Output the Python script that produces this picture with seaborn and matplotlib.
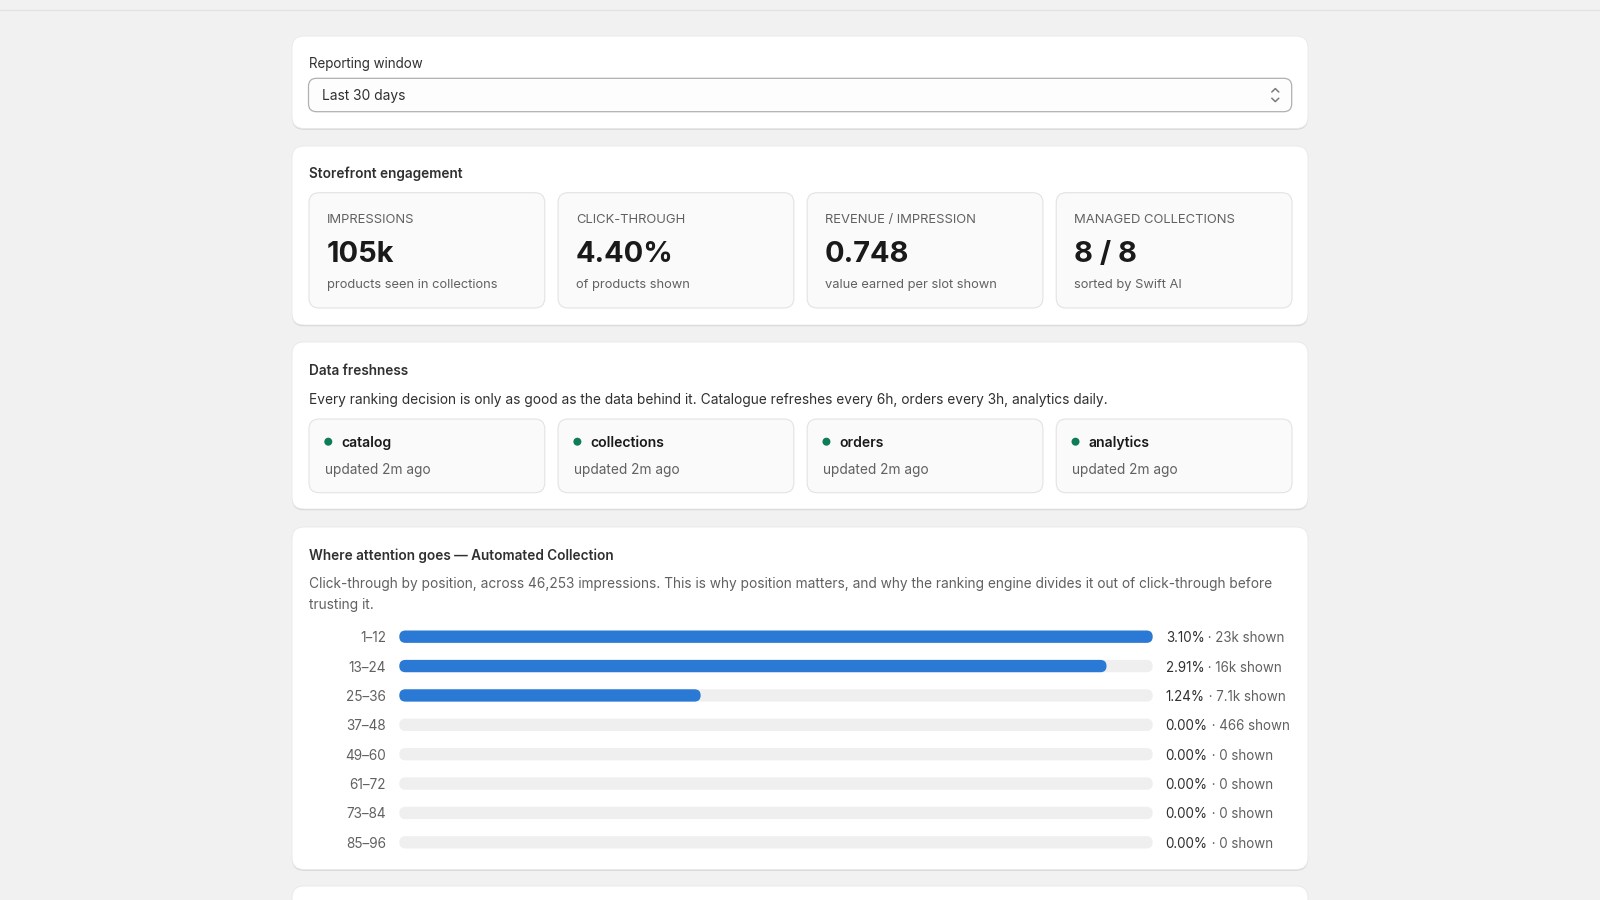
import matplotlib
matplotlib.use("Agg")
import matplotlib.pyplot as plt
from matplotlib.patches import FancyBboxPatch, Circle
import seaborn as sns
import pandas as pd

# ---------------- data ----------------
window_label = "Reporting window"
window_value = "Last 30 days"

metric_labels = ["IMPRESSIONS", "CLICK-THROUGH", "REVENUE / IMPRESSION", "MANAGED COLLECTIONS"]
metric_values = ["105k", "4.40%", "0.748", "8 / 8"]
metric_notes = ["products seen in collections", "of products shown",
                "value earned per slot shown", "sorted by Swift AI"]

fresh_sources = ["catalog", "collections", "orders", "analytics"]
fresh_updated = ["updated 2m ago", "updated 2m ago", "updated 2m ago", "updated 2m ago"]
fresh_desc = ("Every ranking decision is only as good as the data behind it. "
              "Catalogue refreshes every 6h, orders every 3h, analytics daily.")

attn_title = "Where attention goes \u2014 Automated Collection"
attn_desc_1 = ("Click-through by position, across 46,253 impressions. This is why position matters, "
               "and why the ranking engine divides it out of click-through before")
attn_desc_2 = "trusting it."
positions = ["1\u201312", "13\u201324", "25\u201336", "37\u201348",
             "49\u201360", "61\u201372", "73\u201384", "85\u201396"]
ctr_pct = [3.10, 2.91, 1.24, 0.00, 0.00, 0.00, 0.00, 0.00]
shown = ["23k", "16k", "7.1k", "466", "0", "0", "0", "0"]

# ---------------- style ----------------
sns.set_theme(style="white")
plt.rcParams["font.family"] = ["Inter", "DejaVu Sans"]

BG = "#f1f1f1"
TXT = "#303030"
TXT2 = "#616161"
DARK = "#1a1a1a"
BLUE = "#2a7ad5"
TRACK = "#efefef"
GREEN = "#0e7c55"

W, H = 1600, 900
fig = plt.figure(figsize=(16, 9), dpi=100)
fig.patch.set_facecolor(BG)
ax = fig.add_axes([0, 0, 1, 1])
ax.set_xlim(0, W)
ax.set_ylim(H, 0)
ax.axis("off")


def pt(px):
    return px * 0.72


def rbox(x0, y0, x1, y1, r, fc, ec="none", lw=0.8, z=1):
    ax.add_patch(FancyBboxPatch((x0, y0), x1 - x0, y1 - y0,
                                boxstyle=f"round,pad=0,rounding_size={r}",
                                fc=fc, ec=ec, lw=lw, zorder=z))


def card(x0, y0, x1, y1):
    rbox(x0, y0 + 1.3, x1, y1 + 1.3, 12, "#d6d6d6", z=1)
    rbox(x0, y0, x1, y1, 12, "white", ec="#e8e8e8", lw=0.6, z=1.1)


def txt(x, y, s, px, color=TXT, weight="normal", ha="left", va="baseline", z=3):
    return ax.text(x, y, s, fontsize=pt(px), color=color, fontweight=weight,
                   ha=ha, va=va, zorder=z)


# top strip line
ax.plot([0, W], [10.4, 10.4], color="#e2e2e2", lw=1, zorder=0.5)

CX0, CX1 = 292, 1308
IX0, IX1 = 309, 1292

# ---------- card 1: reporting window ----------
card(CX0, 36, CX1, 128.5)
txt(IX0, 68, window_label, 13.4)
rbox(IX0 - 0.5, 78.3, 1291.7, 111.7, 8, "#fdfdfd", ec="#b0b0b0", lw=0.9, z=2)
txt(321.7, 99.8, window_value, 13.8)
ax.plot([1271.8, 1275.3, 1278.8], [92.0, 88.6, 92.0], color="#7a7a7a", lw=1.1, zorder=3,
        solid_capstyle="round", solid_joinstyle="round")
ax.plot([1271.8, 1275.3, 1278.8], [98.2, 101.6, 98.2], color="#7a7a7a", lw=1.1, zorder=3,
        solid_capstyle="round", solid_joinstyle="round")

# sub-card columns
n_cols = len(metric_labels)
gap = 13.3
colw = (IX1 - IX0 - gap * (n_cols - 1)) / n_cols
col_x = [IX0 + i * (colw + gap) for i in range(n_cols)]

# ---------- card 2: storefront engagement ----------
card(CX0, 146, CX1, 325)
txt(IX0, 178.3, "Storefront engagement", 13.6, weight="semibold")
for x0, lab, val, note in zip(col_x, metric_labels, metric_values, metric_notes):
    rbox(x0, 192.7, x0 + colw, 308, 10, "#fafafa", ec="#e3e3e3", lw=0.8, z=2)
    txt(x0 + 17.7, 222.8, lab, 13.0, color=TXT2)
    txt(x0 + 17.7, 261.7, val, 29.0, color=DARK, weight="bold")
    txt(x0 + 17.7, 288.0, note, 12.9, color=TXT2)

# ---------- card 3: data freshness ----------
card(CX0, 342, CX1, 509)
txt(IX0, 375.0, "Data freshness", 13.6, weight="semibold")
txt(IX0, 403.8, fresh_desc, 13.75)
for x0, src, upd in zip(col_x, fresh_sources, fresh_updated):
    rbox(x0, 419, x0 + colw, 492.7, 10, "#fafafa", ec="#e3e3e3", lw=0.8, z=2)
    ax.add_patch(Circle((x0 + 19.3, 441.7), 4.0, fc=GREEN, ec="none", zorder=3))
    txt(x0 + 32.7, 446.9, src, 14.0, color=DARK, weight="semibold")
    txt(x0 + 16.0, 474.3, upd, 13.7, color=TXT2)

# ---------- card 4: where attention goes ----------
card(CX0, 527, CX1, 869.5)
txt(IX0, 559.8, attn_title, 13.6, weight="semibold")
txt(IX0, 588.0, attn_desc_1, 13.75, color=TXT2)
txt(IX0, 608.8, attn_desc_2, 13.75, color=TXT2)

# bar chart axes (pixel box of the bar area)
bx0, bx1 = 399.3, 1152.7
by0, by1 = 622.0, 857.0
bax = fig.add_axes([bx0 / W, 1 - by1 / H, (bx1 - bx0) / W, (by1 - by0) / H])
bax.set_facecolor("none")

df = pd.DataFrame({"position": positions, "ctr": ctr_pct,
                   "track": [max(ctr_pct)] * len(ctr_pct)})
sns.barplot(data=df, x="track", y="position", order=positions, orient="h",
            color=TRACK, saturation=1, width=0.42, errorbar=None, ax=bax)
sns.barplot(data=df, x="ctr", y="position", order=positions, orient="h",
            color=BLUE, saturation=1, width=0.42, errorbar=None, ax=bax)
bax.set_xlim(0, max(ctr_pct))
bax.set_ylim(len(positions) - 0.5, -0.5)
bax.set_xlabel("")
bax.set_ylabel("")
bax.xaxis.set_visible(False)
for s in bax.spines.values():
    s.set_visible(False)
bax.tick_params(axis="y", length=0, pad=pt(13.3), labelsize=pt(13.6), labelcolor=TXT2)

# turn seaborn's rectangles into rounded pills at the same positions
to_main = bax.transData + ax.transData.inverted()
n_track = len(positions)
for k, p in enumerate(list(bax.patches)):
    x, y, w, h = p.get_x(), p.get_y(), p.get_width(), p.get_height()
    fc = p.get_facecolor()
    p.remove()
    if w <= 0:
        continue
    (X0, Y0), (X1, Y1) = to_main.transform([(x, y), (x + w, y + h)])
    xa, xb = sorted([X0, X1])
    ya, yb = sorted([Y0, Y1])
    hh = yb - ya
    ax.add_patch(FancyBboxPatch((xa, ya), xb - xa, hh,
                                boxstyle=f"round,pad=0,rounding_size={hh / 2}",
                                fc=fc, ec="none", zorder=3 if k < n_track else 4))

for i, (v, s) in enumerate(zip(ctr_pct, shown)):
    t = bax.annotate(f"{v:.2f}%", xy=(1, i), xycoords=bax.get_yaxis_transform(),
                     xytext=(pt(13.0), 0), textcoords="offset points",
                     ha="left", va="center_baseline", fontsize=pt(13.4), color=TXT)
    bax.annotate(f" \u00b7 {s} shown", xy=(1, 0), xycoords=t, ha="left", va="bottom",
                 fontsize=pt(13.4), color=TXT2)

# ---------- card 5 (partially visible) ----------
card(CX0, 886, CX1, 960)

fig.savefig("out.png", dpi=100, facecolor=BG)
